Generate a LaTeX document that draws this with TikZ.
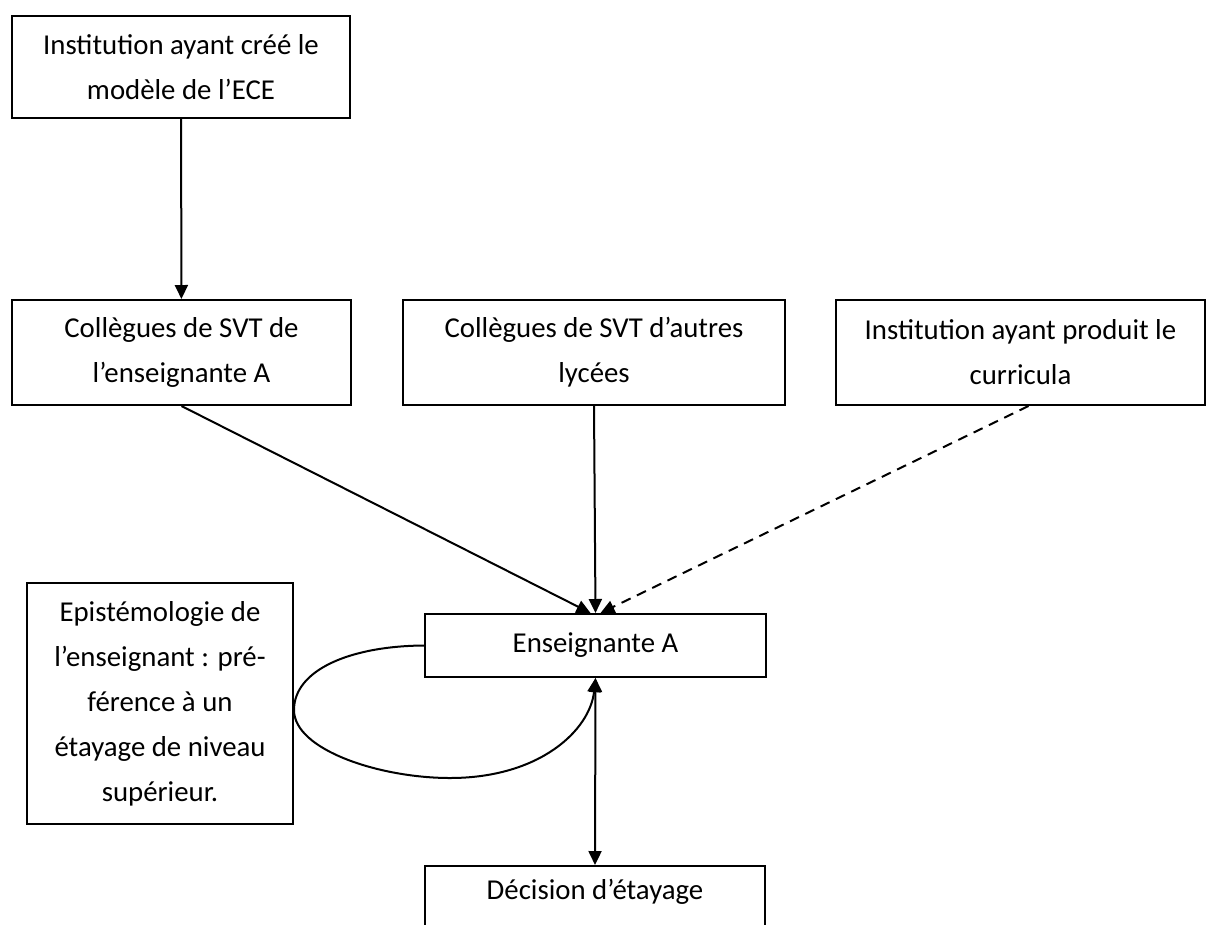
\documentclass[tikz,border=0pt]{standalone}
\usepackage{fontspec}
\setmainfont{Carlito}
\usetikzlibrary{arrows.meta}

\begin{document}
\begin{tikzpicture}[x=1pt, y=-1pt,
  box/.style={draw, line width=2pt, inner sep=0pt, align=center, font=\fontsize{28.8}{45}\selectfont},
  arr/.style={line width=2pt, -{Triangle[length=14pt, width=13pt]}}]
\useasboundingbox (0,0) rectangle (1209,924);

% Sources
\node[box, minimum width=338, minimum height=102] (inst) at (181,67) {Institution ayant créé le\\modèle de l’ECE};
\node[box, minimum width=339, minimum height=105] (colA) at (181.5,352.5) {Collègues de SVT de\\l’enseignante A};
\node[box, minimum width=382, minimum height=105] (colB) at (594,352.5) {Collègues de SVT d’autres\\lycées};
\node[box, minimum width=369, minimum height=105] (curr) at (1020.5,352.5) {Institution ayant produit le\\curricula};

% Teacher, epistemology, decision
\node[box, minimum width=266, minimum height=241] (epist) at (160,703.5) {Epistémologie de\\l’enseignant : pré-\\férence à un\\étayage de niveau\\supérieur.};
\node[box, minimum width=341, minimum height=63] (ens) at (595.5,645.5) {Enseignante A};
\node[box, minimum width=340, minimum height=64, text depth=18pt] (dec) at (595,898) {Décision d’étayage};

% Influences
\draw[arr] (inst) -- (colA);
\draw[arr] (colA.south) -- ([xshift=-5pt]ens.north);
\draw[arr] (colB.south) -- (ens.north);
\draw[arr, dash pattern=on 10pt off 7pt] ([xshift=8pt]curr.south) -- ([xshift=5pt]ens.north);

% Loop and decision
\coordinate (loopL) at (294,710);
\coordinate (loopB) at (450,778);
\draw[arr] (ens.west) .. controls (350,646) and (294,670) .. (loopL)
  .. controls (294,750) and (380,778) .. (loopB)
  .. controls (540,778) and (590,730) .. (ens.south);
\draw[arr, {Triangle[length=14pt, width=13pt]}-{Triangle[length=14pt, width=13pt]}] (ens.south) -- (dec.north);
\end{tikzpicture}
\end{document}
